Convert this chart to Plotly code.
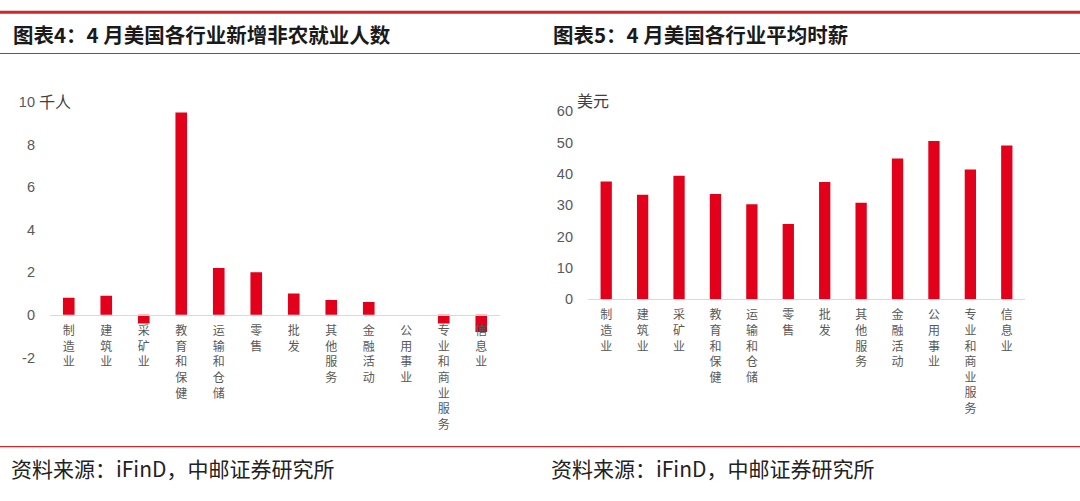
import plotly.graph_objects as go

# ---------------- data ----------------
categories = ["制造业", "建筑业", "采矿业", "教育和保健", "运输和仓储", "零售",
              "批发", "其他服务", "金融活动", "公用事业", "专业和商业服务", "信息业"]
jobs_change = [0.8, 0.9, -0.4, 9.5, 2.2, 2.0, 1.0, 0.7, 0.6, 0.0, -0.4, -0.8]   # 千人
hourly_wage = [37.6, 33.3, 39.4, 33.6, 30.3, 24.0, 37.4, 30.8, 44.9, 50.5, 41.4, 49.1]  # 美元
left_yticks = [-2, 0, 2, 4, 6, 8, 10]
left_yticktext = ["-2", "0", "2", "4", "6", "8", "10"]
right_yticks = [0, 10, 20, 30, 40, 50, 60]
left_title = "图表4：4 月美国各行业新增非农就业人数"
right_title = "图表5：4 月美国各行业平均时薪"
source_text = "资料来源：iFinD，中邮证券研究所"
left_unit = "千人"
right_unit = "美元"

# ---------------- style ----------------
W, H = 1080, 501
BAR = "#E2001A"
RED_LINE = "#D0262D"
TICK_GRAY = "#595959"
AXIS_GRAY = "#D9D9D9"
NUM_FONT = "Liberation Sans, Arial, Noto Sans CJK SC"
CJK_FONT = "Noto Sans CJK SC"


def px_x(p):
    return p / W


def px_y(p):
    return 1 - p / H


vlabels = ["<br>".join(list(c)) for c in categories]

# left plot geometry
L_x0, L_x1 = 50, 500
L_top, L_bot = 97, 361
L_range = [min(left_yticks), max(left_yticks)]
L_dom = [px_y(L_bot), px_y(L_top)]
L_zero = L_dom[0] + (0 - L_range[0]) / (L_range[1] - L_range[0]) * (L_dom[1] - L_dom[0])

# right plot geometry
R_x0, R_x1 = 588, 1025
R_top, R_bot = 106.7, 300.7
R_range = [min(right_yticks), max(right_yticks)]
R_dom = [px_y(R_bot), px_y(R_top)]

fig = go.Figure()
fig.add_trace(go.Bar(x=vlabels, y=jobs_change, marker=dict(color=BAR, line=dict(width=0)),
                     xaxis="x", yaxis="y", showlegend=False))
fig.add_trace(go.Bar(x=vlabels, y=hourly_wage, marker=dict(color=BAR, line=dict(width=0)),
                     xaxis="x2", yaxis="y2", showlegend=False))

tickfont_cat = dict(family=CJK_FONT, size=12, color=TICK_GRAY)
tickfont_num = dict(family=NUM_FONT, size=14.5, color=TICK_GRAY)

fig.update_layout(
    width=W, height=H, autosize=False,
    margin=dict(l=0, r=0, t=0, b=0),
    paper_bgcolor="white", plot_bgcolor="white",
    bargap=0.69,
    xaxis=dict(domain=[px_x(L_x0), px_x(L_x1)], anchor="free", position=L_zero,
               showline=True, linecolor=AXIS_GRAY, linewidth=1, ticks="",
               tickfont=tickfont_cat, tickangle=0, showgrid=False, zeroline=False,
               ticklabelstandoff=5, fixedrange=True),
    yaxis=dict(domain=L_dom, range=L_range, tickvals=left_yticks, ticktext=left_yticktext,
               showgrid=False, zeroline=False, showline=False, tickfont=tickfont_num,
               ticklabelstandoff=14, fixedrange=True),
    xaxis2=dict(domain=[px_x(R_x0), px_x(R_x1)], anchor="y2",
                showline=True, linecolor=AXIS_GRAY, linewidth=1, ticks="",
                tickfont=tickfont_cat, tickangle=0, showgrid=False, zeroline=False,
                ticklabelstandoff=5, fixedrange=True),
    yaxis2=dict(domain=R_dom, range=R_range, tickvals=right_yticks, anchor="x2",
                showgrid=False, zeroline=False, showline=False, tickfont=tickfont_num,
                ticklabelstandoff=14, fixedrange=True),
)

# decorative red rules
for y_px, w in [(4.5, 3), (47, 1.2), (453, 1.2)]:
    fig.add_shape(type="line", xref="paper", yref="paper", x0=0, x1=1,
                  y0=px_y(y_px), y1=px_y(y_px), line=dict(color=RED_LINE, width=w))

title_font = dict(family=CJK_FONT, size=20.5, color="#1a1a1a", weight="bold")
src_font = dict(family=CJK_FONT, size=21, color="#222222")
unit_font = dict(family=CJK_FONT, size=16, color="#404040")
anns = [
    dict(text=left_title, x=px_x(11), y=px_y(27), xanchor="left", yanchor="middle", font=title_font),
    dict(text=right_title, x=px_x(551), y=px_y(27), xanchor="left", yanchor="middle", font=title_font),
    dict(text=source_text, x=px_x(9), y=px_y(475), xanchor="left", yanchor="middle", font=src_font),
    dict(text=source_text, x=px_x(549), y=px_y(475), xanchor="left", yanchor="middle", font=src_font),
    dict(text=left_unit, x=px_x(37), y=px_y(96), xanchor="left", yanchor="middle", font=unit_font),
    dict(text=right_unit, x=px_x(575), y=px_y(95), xanchor="left", yanchor="middle", font=unit_font),
]
for a in anns:
    a.update(xref="paper", yref="paper", showarrow=False)
    fig.add_annotation(**a)

post = """
var gd = document.getElementById('{plot_id}');
document.documentElement.style.margin = '0';
document.body.style.margin = '0';
document.documentElement.style.overflow = 'hidden';
document.body.style.overflow = 'hidden';
gd.style.position = 'fixed';
gd.style.left = '0';
gd.style.top = '0';
"""

fig.write_html("out.html", config={"displayModeBar": False}, post_script=post)
